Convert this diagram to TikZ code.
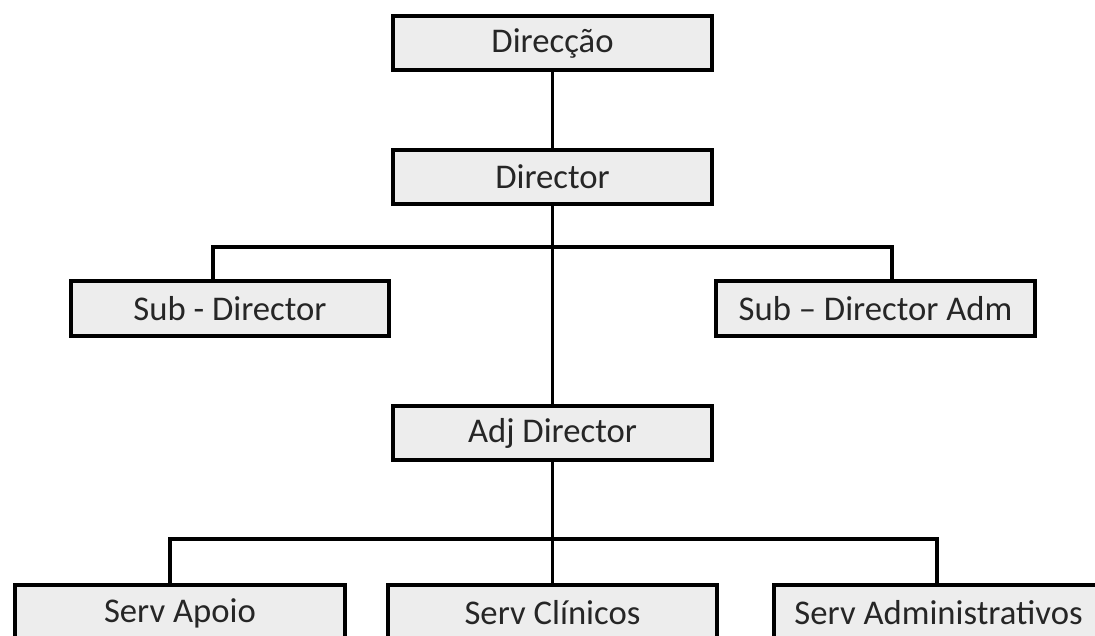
\documentclass[tikz,border=0pt]{standalone}
\usepackage{fontspec}
\setmainfont{Carlito}
\begin{document}
\begin{tikzpicture}[x=0.75pt,y=-0.75pt,
  orgbox/.style={draw=black, line width=3pt, fill=boxgray, text=textgray,
    rectangle, inner sep=0pt, font=\fontsize{26}{31}\selectfont},
  link/.style={draw=black, line width=2.6pt}]
\definecolor{boxgray}{HTML}{EDEDED}
\definecolor{textgray}{HTML}{262626}
\useasboundingbox (0,0) rectangle (1095,635);
\clip (0,0) rectangle (1095,635);
\fill[white] (0,0) rectangle (1095,635);
% nodes
\node[orgbox, minimum width=239pt, minimum height=40pt] (dir) at (552.5,43) {Direcção};
\node[orgbox, minimum width=239pt, minimum height=40pt] (director) at (552.5,177) {Director};
\node[orgbox, minimum width=239pt, minimum height=41pt] (sub) at (230,308.5) {Sub - Director};
\node[orgbox, minimum width=239pt, minimum height=41pt] (subadm) at (875.5,308.5) {Sub – Director Adm};
\node[orgbox, minimum width=239pt, minimum height=41pt] (adj) at (552.5,433) {Adj Director};
\node[orgbox, minimum width=247pt, minimum height=42pt] (apoio) at (180,613) {Serv Apoio};
\node[orgbox, minimum width=247pt, minimum height=42pt] (clin) at (552.5,613) {Serv Clínicos};
\node[orgbox, minimum width=247pt, minimum height=42pt] (admin) at (938.5,613) {Serv Administrativos};
% junctions
\coordinate (sl) at (213,247);
\coordinate (sr) at (892,247);
\coordinate (bl) at (170,539);
\coordinate (br) at (937,539);
\coordinate (bm) at (552.5,539);
% connectors
\draw[link] (dir.south) -- (director.north);
\draw[link] (director.south) -- (adj.north);
\draw[link, line join=miter] (sub.north -| sl) -- (sl) -- (sr) -- (subadm.north -| sr);
\draw[link] (adj.south) -- (bm);
\draw[link, line join=miter] (apoio.north -| bl) -- (bl) -- (br) -- (admin.north -| br);
\draw[link] (bm) -- (clin.north);
\end{tikzpicture}
\end{document}
